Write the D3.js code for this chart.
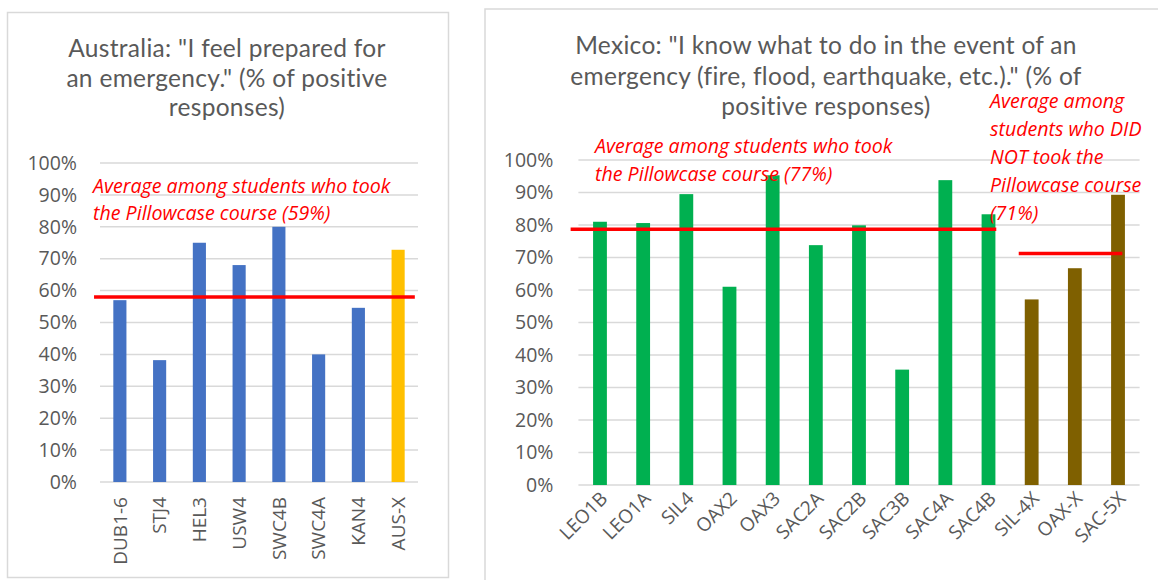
<!DOCTYPE html>
<html>
<head>
<meta charset="utf-8">
<script src="https://cdn.jsdelivr.net/npm/d3@7/dist/d3.min.js"></script>
<style>
  html, body { margin: 0; padding: 0; background: #fff; }
  svg { display: block; }
  text { font-family: "Open Sans", Lato, sans-serif; }
</style>
</head>
<body>
<svg id="chart" width="1158" height="580"></svg>
<script>
// ---------- Data ----------
const ausCategories = ["DUB1-6", "STJ4", "HEL3", "USW4", "SWC4B", "SWC4A", "KAN4", "AUS-X"];
const ausValues = [57, 38.2, 75, 68, 80, 40, 54.6, 72.8];
const ausGroups = ["took", "took", "took", "took", "took", "took", "took", "not"];
const ausAverageTook = 58;

const mexCategories = ["LEO1B", "LEO1A", "SIL4", "OAX2", "OAX3", "SAC2A", "SAC2B", "SAC3B", "SAC4A", "SAC4B", "SIL-4X", "OAX-X", "SAC-5X"];
const mexValues = [81, 80.6, 89.5, 61, 95.3, 73.8, 79.9, 35.5, 93.8, 83.3, 57.1, 66.7, 89.3];
const mexGroups = ["took", "took", "took", "took", "took", "took", "took", "took", "took", "took", "not", "not", "not"];
const mexAverageTook = 78.7;
const mexAverageNot = 71.2;

const yTicks = [0, 10, 20, 30, 40, 50, 60, 70, 80, 90, 100];

const ausTitle = ["Australia: \"I feel prepared for", "an emergency.\" (% of positive", "responses)"];
const mexTitle = ["Mexico: \"I know what to do in the event of an", "emergency (fire, flood, earthquake, etc.).\" (% of", "positive responses)"];
const ausNote = ["Average among students who took", "the Pillowcase course (59%)"];
const mexNoteTook = ["Average among students who took", "the Pillowcase course (77%)"];
const mexNoteNot = ["Average among", "students who DID", "NOT took the", "Pillowcase course", "(71%)"];

// ---------- Styles ----------
const GRAY_TEXT = "#595959";
const GRID = "#d9d9d9";
const RED = "#ff0000";
const ausColor = { took: "#4472c4", not: "#ffc000" };
const mexColor = { took: "#00b050", not: "#7f6000" };

const svg = d3.select("#chart");

function panel(cfg) {
  const g = svg.append("g");
  g.append("rect")
    .attr("x", cfg.box[0]).attr("y", cfg.box[1])
    .attr("width", cfg.box[2]).attr("height", cfg.box[3])
    .attr("fill", "#fff").attr("stroke", GRID).attr("stroke-width", 1.5);

  const x = d3.scaleBand().domain(cfg.cats).range(cfg.xRange)
    .paddingInner(cfg.gap).paddingOuter(cfg.gap / 2);
  const y = d3.scaleLinear().domain([0, 100]).range(cfg.yRange);

  g.append("g").selectAll("line").data(yTicks).join("line")
    .attr("x1", cfg.xRange[0]).attr("x2", cfg.xRange[1])
    .attr("y1", d => y(d)).attr("y2", d => y(d))
    .attr("stroke", GRID).attr("stroke-width", 1.5);

  const ya = g.append("g").attr("transform", `translate(${cfg.xRange[0]},0)`)
    .call(d3.axisLeft(y).tickValues(yTicks).tickFormat(d => d + "%").tickSize(0).tickPadding(cfg.tickPad));
  ya.select(".domain").remove();
  ya.selectAll("text").attr("fill", GRAY_TEXT).style("font-size", cfg.tickFont + "px")
    .style("font-family", "'Open Sans', Lato, sans-serif");

  g.append("g").selectAll("rect").data(cfg.cats).join("rect")
    .attr("x", d => x(d)).attr("width", x.bandwidth())
    .attr("y", (d, i) => y(cfg.vals[i]))
    .attr("height", (d, i) => y(0) - y(cfg.vals[i]))
    .attr("fill", (d, i) => cfg.colors[cfg.groups[i]]);

  const step = x.step();
  g.append("g").selectAll("text").data(cfg.cats).join("text")
    .attr("transform", d => `translate(${x(d) + x.bandwidth() / 2 + cfg.labDx},${cfg.labY}) rotate(${cfg.rot})`)
    .attr("text-anchor", "end").attr("dy", "0.35em")
    .attr("fill", GRAY_TEXT).style("font-size", cfg.labFont + "px")
    .text(d => d);

  g.append("text").attr("text-anchor", "middle").attr("fill", GRAY_TEXT)
    .style("font-family", "Lato, 'Open Sans', sans-serif")
    .style("letter-spacing", "0.3px")
    .style("font-size", cfg.titleFont + "px")
    .selectAll("tspan").data(cfg.title).join("tspan")
    .attr("x", cfg.titleX).attr("y", (d, i) => cfg.titleY + i * cfg.titleLH)
    .text(d => d);

  return { g, x, y, step };
}

function avgLine(p, value, c0, off0, c1, off1) {
  const x1 = p.x(c0) + p.x.bandwidth() / 2 - p.step / 2 + off0 * p.step;
  const x2 = p.x(c1) + p.x.bandwidth() / 2 - p.step / 2 + off1 * p.step;
  p.g.append("line").attr("x1", x1).attr("x2", x2)
    .attr("y1", p.y(value)).attr("y2", p.y(value))
    .attr("stroke", RED).attr("stroke-width", 3.5);
}

function note(p, lines, x, y0, lh, size) {
  p.g.append("text").attr("fill", RED).style("font-style", "italic")
    .style("font-size", size + "px")
    .selectAll("tspan").data(lines).join("tspan")
    .attr("x", x).attr("y", (d, i) => y0 + i * lh).text(d => d);
}

// ---------- Australia ----------
const aus = panel({
  box: [7.5, 12.5, 441, 565],
  cats: ausCategories, vals: ausValues, groups: ausGroups, colors: ausColor,
  xRange: [100, 418], yRange: [482, 163], gap: 0.67,
  tickPad: 23, tickFont: 19.5, labFont: 19,
  labDx: 0, labY: 497, rot: -90,
  title: ausTitle, titleX: 227, titleY: 57, titleLH: 29.5, titleFont: 24.5
});
avgLine(aus, ausAverageTook, ausCategories[0], -0.15, ausCategories[ausCategories.length - 1], 0.92);
note(aus, ausNote, 93, 193, 27, 19.6);

// ---------- Mexico ----------
const mex = panel({
  box: [485, 9, 700, 600],
  cats: mexCategories, vals: mexValues, groups: mexGroups, colors: mexColor,
  xRange: [578.4, 1139.6], yRange: [485, 160], gap: 0.68,
  tickPad: 25, tickFont: 19.5, labFont: 19,
  labDx: 4, labY: 495, rot: -45,
  title: mexTitle, titleX: 826, titleY: 54, titleLH: 30.5, titleFont: 24.5
});
avgLine(mex, mexAverageTook, mexCategories[0], -0.18, mexCategories[9], 0.68);
avgLine(mex, mexAverageNot, mexCategories[10], 0.2, mexCategories[12], 0.6);
note(mex, mexNoteTook, 595, 153, 28, 19.6);
note(mex, mexNoteNot, 990, 108, 28, 19.6);
</script>
</body>
</html>
